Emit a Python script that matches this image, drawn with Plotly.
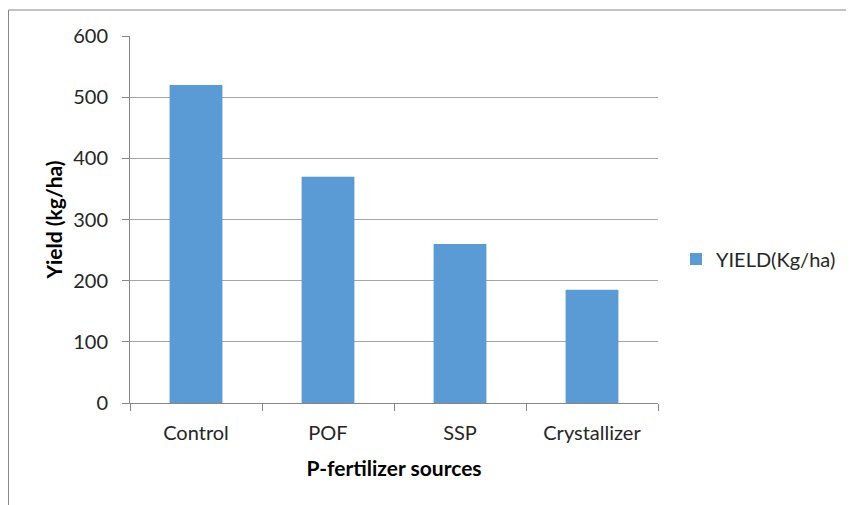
import plotly.graph_objects as go

categories = ["Control", "POF", "SSP", "Crystallizer"]
yield_values = [520, 370, 260, 185]
series_name = "YIELD(Kg/ha)"
y_ticks = [0, 100, 200, 300, 400, 500, 600]

# figure is placed at (8, 8) in the page; work in figure pixels
W, H = 846, 497
L, R, T, B = 122, 196, 28, 102
pw, ph = W - L - R, H - T - B

def px_x(x):
    return (x - L) / pw

def px_y(y):
    return (H - B - y) / ph

fig = go.Figure()
fig.add_trace(go.Bar(
    x=categories, y=yield_values, name=series_name,
    marker=dict(color="#5B9BD5", line=dict(width=0)),
    showlegend=True,
))

font_family = "Lato, 'Open Sans', sans-serif"

fig.update_layout(
    width=W, height=H,
    margin=dict(l=L, r=R, t=T, b=B),
    paper_bgcolor="white", plot_bgcolor="white",
    bargap=0.6,
    font=dict(family=font_family, size=20, color="#262626"),
    showlegend=True,
    legend=dict(x=px_x(668), y=px_y(251), xanchor="left", yanchor="middle",
                font=dict(size=20, color="#262626"), bgcolor="rgba(0,0,0,0)"),
    xaxis=dict(
        showline=True, linecolor="#878787", linewidth=1,
        ticks="outside", tickson="boundaries", ticklen=7, tickcolor="#878787",
        showgrid=False,
        tickfont=dict(size=20),
        ticklabelstandoff=12,
        title=dict(text="<b>P-fertilizer sources</b>", font=dict(size=21, color="#000"), standoff=18),
    ),
    yaxis=dict(
        range=[0, 600], tickvals=y_ticks,
        showline=True, linecolor="#878787", linewidth=1,
        ticks="outside", ticklen=7, tickcolor="#878787",
        showgrid=True, gridcolor="#a6a6a6", gridwidth=1,
        zeroline=False,
        tickfont=dict(size=20),
        ticklabelstandoff=10,
        title=dict(text="<b>Yield (kg/ha)</b>", font=dict(size=21, color="#000"), standoff=4),
    ),
    shapes=[
        dict(type="line", xref="paper", yref="paper",
             x0=px_x(0.5), x1=px_x(846), y0=px_y(2), y1=px_y(2),
             line=dict(color="#878787", width=1)),
        dict(type="line", xref="paper", yref="paper",
             x0=px_x(0.5), x1=px_x(0.5), y0=px_y(2), y1=px_y(497),
             line=dict(color="#878787", width=1)),
    ],
)

fig.write_html("out.html")
